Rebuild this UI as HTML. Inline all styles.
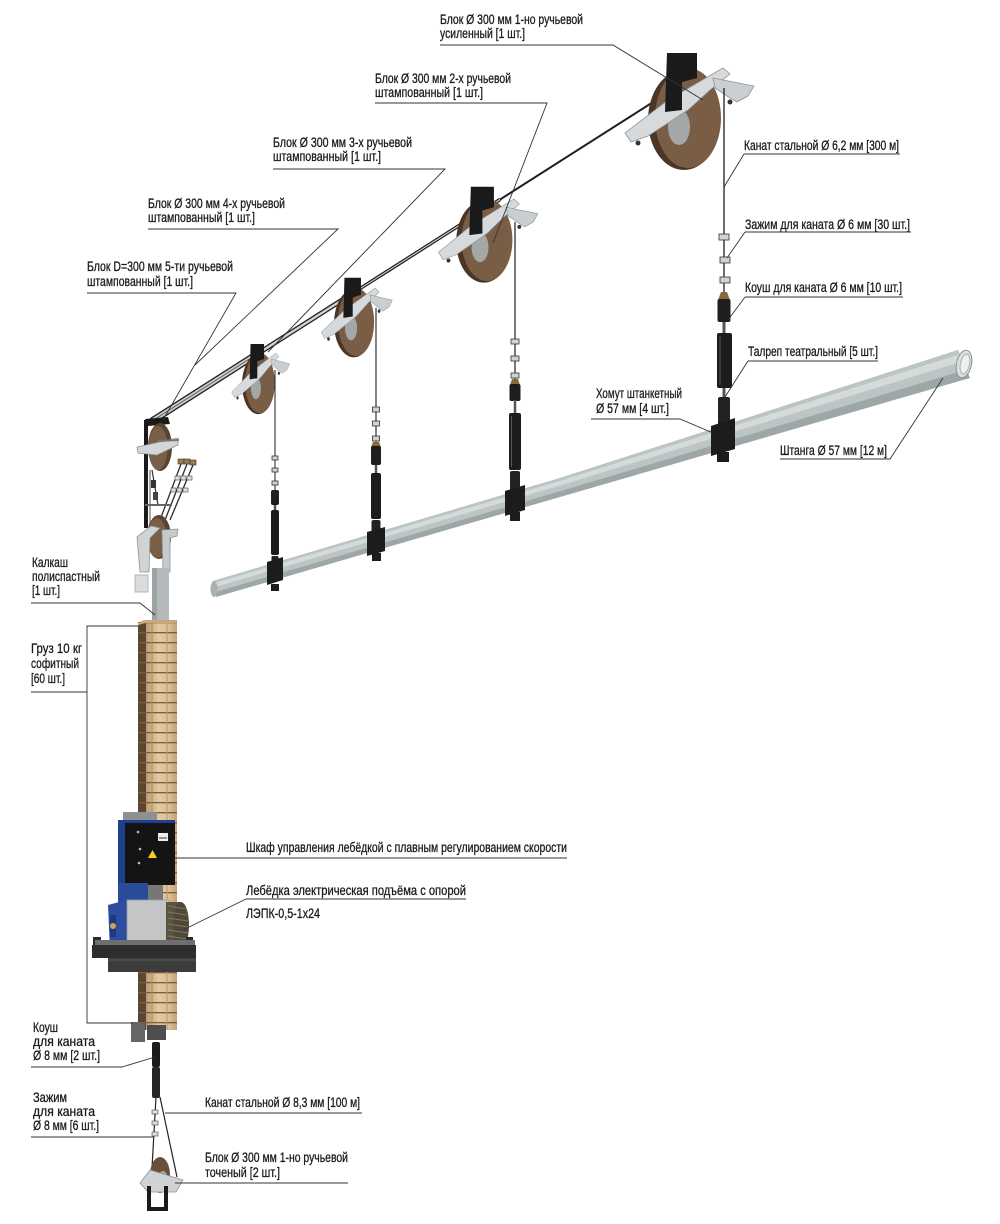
<!DOCTYPE html>
<html><head><meta charset="utf-8">
<style>
html,body{margin:0;padding:0;background:#fff;}
svg{display:block;}
text{font-family:"Liberation Sans Narrow","Liberation Sans",sans-serif;font-size:14px;fill:#1a1a1a;stroke:#1a1a1a;stroke-width:0.3;}
</style></head><body>
<svg width="1000" height="1224" viewBox="0 0 1000 1224" xmlns="http://www.w3.org/2000/svg">
<defs>
 <g id="pl">
  <ellipse cx="-4" cy="2" rx="36" ry="50" fill="#4a3626"/>
  <ellipse cx="0" cy="0" rx="33" ry="50" fill="#7a5d45"/>
  <ellipse cx="-9" cy="9" rx="11" ry="18" fill="#a4a7a8"/>
  <polygon points="-63,15 -20,-18 35,-50 42,-44 22,-28 0,-8 -40,18 -57,24" fill="#d6dadc" stroke="#8d9597" stroke-width="0.8"/>
  <polygon points="25,-40 66,-32 60,-22 49,-16 42,-20 27,-30" fill="#c9ced0" stroke="#8d9597" stroke-width="0.8"/>
  <polygon points="-21,-65 9,-65 9,-40 -6,-36 -6,-8 -23,-6" fill="#1a1a1a"/>
  <circle cx="-50" cy="25" r="2.5" fill="#333"/>
  <circle cx="42" cy="-16" r="2.5" fill="#333"/>
 </g>
 <linearGradient id="gs" x1="0" x2="1" y1="0" y2="0">
  <stop offset="0" stop-color="#bf9c70"/>
  <stop offset="0.4" stop-color="#e3c8a0"/>
  <stop offset="0.75" stop-color="#dcbf95"/>
  <stop offset="1" stop-color="#c4a276"/>
 </linearGradient>
 <pattern id="rows" patternUnits="userSpaceOnUse" x="0" y="622" width="200" height="10">
  <rect x="0" y="0" width="200" height="1.3" fill="#7a5c3e"/>
 </pattern>
</defs>

<!-- ===== Pipe ===== -->
<polygon points="213,581 560,478 958,350 970,378 560,497 216,597" fill="#9ea7a7"/>
<polygon points="213,581 560,478 958,350 966.4,369.6 560,491.3 214.8,592.2" fill="#bcc4c4"/>
<polygon points="213.5,583.4 560,480.9 959.8,354.2 962.8,361.2 560,485.6 214,587.4" fill="#d5dbdb"/>
<ellipse cx="214" cy="589" rx="3.5" ry="8" fill="#a9b1b1"/>
<ellipse cx="964" cy="364" rx="7.5" ry="14" transform="rotate(12 964 364)" fill="#d9dede" stroke="#8a9292" stroke-width="1"/>
<ellipse cx="965" cy="364" rx="4.5" ry="10" transform="rotate(12 965 364)" fill="#eef1f1" stroke="#aab1b1" stroke-width="1"/>

<!-- ===== Main rope bundle ===== -->
<line x1="152" y1="421" x2="683" y2="83" stroke="#1e1e1e" stroke-width="2"/>
<line x1="152" y1="421" x2="500" y2="199.5" stroke="#1e1e1e" stroke-width="3.5"/>
<line x1="152" y1="421" x2="500" y2="199.5" stroke="#d0d4d4" stroke-width="1.1"/>
<line x1="152" y1="421" x2="352" y2="293.7" stroke="#1e1e1e" stroke-width="5"/>
<line x1="152" y1="421" x2="352" y2="293.7" stroke="#cfd3d3" stroke-width="2.4"/>
<line x1="152" y1="421" x2="258" y2="353.5" stroke="#1e1e1e" stroke-width="7"/>
<line x1="152" y1="421" x2="258" y2="353.5" stroke="#c8cccc" stroke-width="4.4"/>
<line x1="152" y1="421" x2="258" y2="353.5" stroke="#555" stroke-width="0.8"/>

<!-- ===== Overhead pulleys ===== -->
<use href="#pl" transform="translate(688,118)"/>
<use href="#pl" transform="translate(487,240) scale(0.77,0.82)"/>
<use href="#pl" transform="translate(356,322) scale(0.55,0.68)"/>
<use href="#pl" transform="translate(260,383) scale(0.45,0.6)"/>

<!-- ===== Drop 1 (x=724) ===== -->
<g>
 <line x1="724" y1="88" x2="724" y2="300" stroke="#1e1e1e" stroke-width="1.3"/>
 <rect x="719" y="234" width="10" height="6" fill="#cfd3d5" stroke="#333" stroke-width="0.8"/>
 <rect x="720" y="257" width="10" height="6" fill="#cfd3d5" stroke="#333" stroke-width="0.8"/>
 <rect x="720" y="277" width="10" height="6" fill="#cfd3d5" stroke="#333" stroke-width="0.8"/>
 <polygon points="721,292 727,292 730,300 718,300" fill="#8a6a3a"/>
 <rect x="717.5" y="299" width="13" height="23" rx="2" fill="#1e1e1e"/>
 <line x1="724" y1="322" x2="724" y2="334" stroke="#555" stroke-width="3"/>
 <rect x="717" y="333" width="15" height="55" rx="2" fill="#1c1c1c"/>
 <line x1="720" y1="336" x2="720" y2="385" stroke="#555" stroke-width="1"/>
 <line x1="724" y1="388" x2="724" y2="398" stroke="#555" stroke-width="3"/>
 <rect x="718" y="397" width="12" height="30" rx="2" fill="#222"/>
</g>
<!-- ===== Drop 2 (x=515) ===== -->
<g>
 <line x1="515" y1="222" x2="515" y2="386" stroke="#1e1e1e" stroke-width="1.2"/>
 <rect x="511" y="339" width="8" height="5" fill="#cfd3d5" stroke="#333" stroke-width="0.8"/>
 <rect x="511" y="356" width="8" height="5" fill="#cfd3d5" stroke="#333" stroke-width="0.8"/>
 <rect x="511" y="373" width="8" height="5" fill="#cfd3d5" stroke="#333" stroke-width="0.8"/>
 <polygon points="512,379 518,379 520,385 510,385" fill="#8a6a3a"/>
 <rect x="509.5" y="384" width="11" height="17" rx="2" fill="#1e1e1e"/>
 <line x1="515" y1="400" x2="515" y2="414" stroke="#555" stroke-width="2.5"/>
 <rect x="509" y="413" width="12" height="57" rx="2" fill="#1c1c1c"/>
 <line x1="511.5" y1="416" x2="511.5" y2="467" stroke="#555" stroke-width="1"/>
 <rect x="510" y="471" width="10" height="20" rx="2" fill="#222"/>
</g>
<!-- ===== Drop 3 (x=376) ===== -->
<g>
 <line x1="376" y1="308" x2="376" y2="446" stroke="#1e1e1e" stroke-width="1.1"/>
 <rect x="372.5" y="407" width="7" height="5" fill="#cfd3d5" stroke="#333" stroke-width="0.8"/>
 <rect x="372.5" y="421" width="7" height="5" fill="#cfd3d5" stroke="#333" stroke-width="0.8"/>
 <rect x="372.5" y="436" width="7" height="5" fill="#cfd3d5" stroke="#333" stroke-width="0.8"/>
 <polygon points="373,442 379,442 381,447 371,447" fill="#8a6a3a"/>
 <rect x="371" y="446" width="10" height="19" rx="2" fill="#1e1e1e"/>
 <line x1="376" y1="465" x2="376" y2="474" stroke="#555" stroke-width="2.5"/>
 <rect x="371" y="473" width="10" height="46" rx="2" fill="#1c1c1c"/>
 <rect x="371.5" y="520" width="9" height="13" rx="2" fill="#222"/>
</g>
<!-- ===== Drop 4 (x=275) ===== -->
<g>
 <line x1="275" y1="370" x2="275" y2="491" stroke="#1e1e1e" stroke-width="1"/>
 <rect x="272" y="456" width="6" height="4" fill="#cfd3d5" stroke="#333" stroke-width="0.8"/>
 <rect x="272" y="468" width="6" height="4" fill="#cfd3d5" stroke="#333" stroke-width="0.8"/>
 <rect x="272" y="481" width="6" height="4" fill="#cfd3d5" stroke="#333" stroke-width="0.8"/>
 <rect x="271" y="490" width="8" height="15" rx="2" fill="#1e1e1e"/>
 <line x1="275" y1="505" x2="275" y2="511" stroke="#555" stroke-width="2.5"/>
 <rect x="271" y="510" width="8" height="45" rx="2" fill="#1c1c1c"/>
 <rect x="271.5" y="556" width="7" height="8" rx="1" fill="#222"/>
</g>

<!-- ===== Pipe clamps ===== -->
<polygon points="267,562 283,557 283,580 267,585" fill="#1c1c1c"/>
<rect x="271" y="584" width="8" height="7" fill="#1c1c1c"/>
<polygon points="367,532 385,527 385,551 367,556" fill="#1c1c1c"/>
<rect x="372" y="553" width="9" height="8" fill="#1c1c1c"/>
<polygon points="505,491 525,485 525,510 505,516" fill="#1c1c1c"/>
<rect x="510" y="512" width="10" height="9" fill="#1c1c1c"/>
<polygon points="711,426 735,418 735,449 711,456" fill="#1c1c1c"/>
<rect x="717" y="452" width="12" height="10" fill="#1c1c1c"/>

<!-- ===== Corner column pulleys ===== -->
<rect x="144" y="420" width="4" height="108" fill="#1a1a1a"/>
<line x1="150" y1="470" x2="150" y2="528" stroke="#888" stroke-width="1.5"/>
<polygon points="145,419 168,417 170,424 148,426" fill="#1a1a1a"/>
<ellipse cx="160" cy="447" rx="12" ry="24" fill="#5a4331"/>
<ellipse cx="158" cy="448" rx="9.5" ry="22" fill="#7b5e46"/>
<polygon points="137,447 178,438 178,445 157,455 138,453" fill="#d3d7d9" stroke="#8d9597" stroke-width="0.8"/>
<line x1="158" y1="441" x2="179" y2="440" stroke="#777" stroke-width="2"/>
<g stroke="#2a2a2a" stroke-width="1.3">
 <line x1="181" y1="464" x2="160" y2="520"/>
 <line x1="187" y1="464" x2="165" y2="520"/>
 <line x1="193" y1="465" x2="170" y2="520"/>
</g>
<rect x="178" y="459" width="6" height="5" fill="#9c7a52" stroke="#333" stroke-width="0.6"/>
<rect x="184" y="459" width="6" height="5" fill="#9c7a52" stroke="#333" stroke-width="0.6"/>
<rect x="190" y="460" width="6" height="5" fill="#9c7a52" stroke="#333" stroke-width="0.6"/>
<g fill="#dcdfe0" stroke="#444" stroke-width="0.6">
 <rect x="175" y="476" width="5" height="4"/><rect x="181" y="476" width="5" height="4"/><rect x="187" y="476" width="5" height="4"/>
 <rect x="171" y="488" width="5" height="4"/><rect x="177" y="488" width="5" height="4"/><rect x="183" y="488" width="5" height="4"/>
</g>
<line x1="152" y1="470" x2="158" y2="505" stroke="#333" stroke-width="1.2"/>
<rect x="151" y="480" width="5" height="8" fill="#333"/>
<rect x="153" y="492" width="5" height="8" fill="#444"/>
<line x1="145" y1="505" x2="172" y2="505" stroke="#666" stroke-width="2"/>
<ellipse cx="159" cy="537" rx="12" ry="22" fill="#5a4331"/>
<ellipse cx="157" cy="538" rx="9.5" ry="20" fill="#7b5e46"/>
<polygon points="137,537 151,526 160,528 150,538 149,572 140,572" fill="#d0d4d6" stroke="#8d9597" stroke-width="0.8"/>
<polygon points="162,530 178,529 177,536 170,538 170,572 163,572" fill="#c5cacc" stroke="#8d9597" stroke-width="0.8"/>
<rect x="152" y="568" width="17" height="56" fill="#b5b9bb"/>
<rect x="152" y="568" width="5" height="56" fill="#9ca1a3"/>
<rect x="135" y="575" width="13" height="17" fill="#d8dcdd" stroke="#aaa" stroke-width="0.8"/>

<!-- ===== Weight stack ===== -->
<polygon points="138,625 146,622 146,1030 138,1030" fill="#5d4631"/>
<rect x="146" y="622" width="31" height="408" fill="url(#gs)"/>
<rect x="138" y="622" width="39" height="408" fill="url(#rows)"/>
<line x1="152" y1="622" x2="152" y2="1030" stroke="#a98b63" stroke-width="1"/>
<line x1="167" y1="622" x2="167" y2="1030" stroke="#b99a70" stroke-width="1"/>
<path d="M138,625 Q140,620 146,620 L177,620 L177,623 L146,623 Z" fill="#c8a77c"/>

<!-- ===== Winch ===== -->
<rect x="123" y="812" width="34" height="10" fill="#8e9192"/>
<rect x="118" y="820" width="57" height="65" fill="#141414"/>
<rect x="118" y="820" width="57" height="3" fill="#1f3f8f"/>
<rect x="118" y="820" width="7" height="65" fill="#1f3f8f"/>
<rect x="158" y="833" width="10" height="8" fill="#eeeeee"/>
<line x1="159" y1="838" x2="167" y2="838" stroke="#333" stroke-width="1"/>
<polygon points="148,858 157,858 152.5,850" fill="#f2d21b"/>
<circle cx="138" cy="832" r="1.3" fill="#bbb"/>
<circle cx="140" cy="849" r="1.3" fill="#bbb"/>
<circle cx="139" cy="863" r="1.3" fill="#bbb"/>
<rect x="118" y="883" width="30" height="24" fill="#2a4a9a"/>
<rect x="148" y="885" width="15" height="18" fill="#777"/>
<polygon points="108,905 127,900 127,952 110,950" fill="#2c4da0"/>
<rect x="110" y="915" width="6" height="22" fill="#1d3a80"/>
<circle cx="113" cy="926" r="3" fill="#c9a45c"/>
<rect x="127" y="900" width="42" height="53" fill="#c3c5c6" stroke="#9a9c9d" stroke-width="0.8"/>
<rect x="166" y="902" width="15" height="46" fill="#5a5444"/>
<ellipse cx="181" cy="925" rx="8" ry="23" fill="#4e4838"/>
<g stroke="#807862" stroke-width="1">
 <line x1="168" y1="906" x2="186" y2="909"/><line x1="168" y1="912" x2="187" y2="915"/>
 <line x1="168" y1="918" x2="188" y2="921"/><line x1="168" y1="924" x2="188" y2="927"/>
 <line x1="168" y1="930" x2="188" y2="933"/><line x1="168" y1="936" x2="187" y2="939"/>
 <line x1="168" y1="942" x2="185" y2="945"/>
</g>
<rect x="93" y="937" width="8" height="10" fill="#2a2a2a"/>
<rect x="186" y="937" width="7" height="10" fill="#2a2a2a"/>
<rect x="95" y="940" width="100" height="6" fill="#6d6f70"/>
<rect x="92" y="945" width="104" height="13" fill="#2e2e2e"/>
<rect x="108" y="958" width="88" height="14" fill="#3c3c3c"/>
<line x1="108" y1="960" x2="196" y2="960" stroke="#5a5a5a" stroke-width="1"/>

<!-- ===== Bottom hardware ===== -->
<rect x="131" y="1022" width="14" height="20" fill="#666"/>
<rect x="147" y="1025" width="19" height="15" fill="#4e4e4e"/>
<rect x="152" y="1042" width="8" height="25" rx="2" fill="#1b1b1b"/>
<rect x="152" y="1067" width="8" height="31" rx="2" fill="#262626"/>
<line x1="156" y1="1097" x2="152" y2="1168" stroke="#222" stroke-width="1.2"/>
<line x1="160" y1="1097" x2="177" y2="1177" stroke="#222" stroke-width="1.2"/>
<g fill="#dcdfe0" stroke="#444" stroke-width="0.6">
 <rect x="152" y="1110" width="6" height="4"/><rect x="152" y="1121" width="6" height="4"/><rect x="152" y="1132" width="6" height="4"/>
</g>
<ellipse cx="160" cy="1175" rx="10" ry="18" fill="#6a4f3a"/>
<ellipse cx="163" cy="1180" rx="5" ry="9" fill="#a4a7a8"/>
<polygon points="140,1183 150,1170 183,1180 176,1192 148,1192" fill="#cfd3d5" stroke="#8d9597" stroke-width="0.8"/>
<path d="M149,1186 V1209 H166 V1186" fill="none" stroke="#1b1b1b" stroke-width="4"/>

<!-- ===== Leader lines ===== -->
<g fill="none" stroke="#333" stroke-width="0.9">
 <path d="M440,45 H613 L703,100"/>
 <path d="M375,103 H547 L493,243"/>
 <path d="M273,169 H445 L268,352"/>
 <path d="M148,229 H338 L195,365"/>
 <path d="M87,293 H236 L163,420"/>
 <path d="M744,154 H900 M744,154 L724,187"/>
 <path d="M745,232 H911 M745,232 L727,258"/>
 <path d="M745,297 H903 M745,297 L728,320"/>
 <path d="M748,361 H878 M748,361 L725,397"/>
 <path d="M591,419 H680 L713,433"/>
 <path d="M780,459 H890 L943,378"/>
 <path d="M31,603 H140 L155,615"/>
 <path d="M31,692 H87 M138,626 H87 V1023 H133"/>
 <path d="M31,1067 H122 L155,1057"/>
 <path d="M31,1137 H153"/>
 <path d="M165,1113 H362"/>
 <path d="M175,1183 H348"/>
 <path d="M175,858 H567"/>
 <path d="M246,899 H466 M246,899 L183,930"/>
</g>

<!-- ===== Labels ===== -->
<text x="440" y="24" textLength="143" lengthAdjust="spacingAndGlyphs">Блок Ø 300 мм 1-но ручьевой</text>
<text x="440" y="38" textLength="85" lengthAdjust="spacingAndGlyphs">усиленный [1 шт.]</text>
<text x="375" y="83" textLength="136" lengthAdjust="spacingAndGlyphs">Блок Ø 300 мм 2-х ручьевой</text>
<text x="375" y="97" textLength="108" lengthAdjust="spacingAndGlyphs">штампованный [1 шт.]</text>
<text x="273" y="147" textLength="139" lengthAdjust="spacingAndGlyphs">Блок Ø 300 мм 3-х ручьевой</text>
<text x="273" y="161" textLength="108" lengthAdjust="spacingAndGlyphs">штампованный [1 шт.]</text>
<text x="148" y="208" textLength="137" lengthAdjust="spacingAndGlyphs">Блок Ø 300 мм 4-х ручьевой</text>
<text x="148" y="222" textLength="107" lengthAdjust="spacingAndGlyphs">штампованный [1 шт.]</text>
<text x="87" y="271" textLength="146" lengthAdjust="spacingAndGlyphs">Блок D=300 мм 5-ти ручьевой</text>
<text x="87" y="286" textLength="106" lengthAdjust="spacingAndGlyphs">штампованный [1 шт.]</text>

<text x="744" y="150" textLength="155" lengthAdjust="spacingAndGlyphs">Канат стальной Ø 6,2 мм [300 м]</text>
<text x="745" y="229" textLength="165" lengthAdjust="spacingAndGlyphs">Зажим для каната Ø 6 мм [30 шт.]</text>
<text x="745" y="292" textLength="157" lengthAdjust="spacingAndGlyphs">Коуш для каната Ø 6 мм [10 шт.]</text>
<text x="748" y="356" textLength="130" lengthAdjust="spacingAndGlyphs">Талреп театральный [5 шт.]</text>
<text x="596" y="398" textLength="86" lengthAdjust="spacingAndGlyphs">Хомут штанкетный</text>
<text x="596" y="413" textLength="73" lengthAdjust="spacingAndGlyphs">Ø 57 мм [4 шт.]</text>
<text x="780" y="455" textLength="107" lengthAdjust="spacingAndGlyphs">Штанга Ø 57 мм [12 м]</text>

<text x="32" y="567" textLength="36" lengthAdjust="spacingAndGlyphs">Калкаш</text>
<text x="32" y="581" textLength="68" lengthAdjust="spacingAndGlyphs">полиспастный</text>
<text x="32" y="595" textLength="28" lengthAdjust="spacingAndGlyphs">[1 шт.]</text>
<text x="31" y="653" textLength="51" lengthAdjust="spacingAndGlyphs">Груз 10 кг</text>
<text x="31" y="668" textLength="48" lengthAdjust="spacingAndGlyphs">софитный</text>
<text x="31" y="683" textLength="34" lengthAdjust="spacingAndGlyphs">[60 шт.]</text>

<text x="246" y="852" textLength="321" lengthAdjust="spacingAndGlyphs">Шкаф управления лебёдкой с плавным регулированием скорости</text>
<text x="246" y="895" textLength="220" lengthAdjust="spacingAndGlyphs">Лебёдка электрическая подъёма с опорой</text>
<text x="246" y="918" textLength="74" lengthAdjust="spacingAndGlyphs">ЛЭПК-0,5-1х24</text>

<text x="33" y="1032" textLength="25" lengthAdjust="spacingAndGlyphs">Коуш</text>
<text x="33" y="1046" textLength="62" lengthAdjust="spacingAndGlyphs">для каната</text>
<text x="33" y="1060" textLength="67" lengthAdjust="spacingAndGlyphs">Ø 8 мм [2 шт.]</text>
<text x="33" y="1102" textLength="34" lengthAdjust="spacingAndGlyphs">Зажим</text>
<text x="33" y="1116" textLength="62" lengthAdjust="spacingAndGlyphs">для каната</text>
<text x="33" y="1130" textLength="66" lengthAdjust="spacingAndGlyphs">Ø 8 мм [6 шт.]</text>
<text x="205" y="1107" textLength="155" lengthAdjust="spacingAndGlyphs">Канат стальной Ø 8,3 мм [100 м]</text>
<text x="205" y="1162" textLength="143" lengthAdjust="spacingAndGlyphs">Блок Ø 300 мм 1-но ручьевой</text>
<text x="205" y="1177" textLength="75" lengthAdjust="spacingAndGlyphs">точеный [2 шт.]</text>
</svg>
</body></html>
